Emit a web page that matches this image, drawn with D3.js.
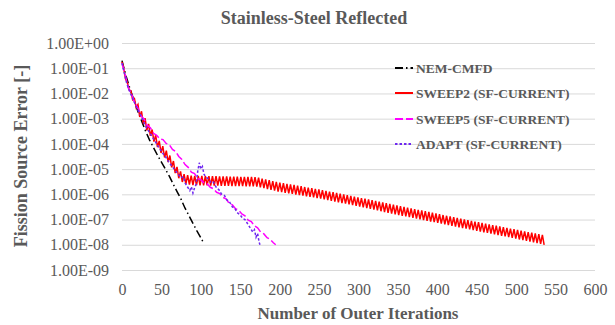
<!DOCTYPE html>
<html>
<head>
<meta charset="UTF-8">
<title>Stainless-Steel Reflected</title>
<script src="https://d3js.org/d3.v7.min.js"></script>
<style>
    body { margin: 0; background: #fff; }
    text { font-family: "Liberation Serif", "Times New Roman", serif; fill: #595959; }
    .axis .domain { display: none; }
    .axis line { stroke: #D9D9D9; }
</style>
</head>
<body>
<div id="chart"></div>
<script>
// ---- data (errors stored as log10 values) ----
var xTicks = [0, 50, 100, 150, 200, 250, 300, 350, 400, 450, 500, 550, 600];
var yTicks = [1e0, 1e-1, 1e-2, 1e-3, 1e-4, 1e-5, 1e-6, 1e-7, 1e-8, 1e-9];
var seriesNames = ["NEM-CMFD", "SWEEP2 (SF-CURRENT)", "SWEEP5 (SF-CURRENT)", "ADAPT (SF-CURRENT)"];

// NEM-CMFD
var nemIter = [0, 5, 10, 15, 20, 25, 30, 35, 40, 45, 50, 55, 60, 65, 70, 75, 80, 85, 90, 95, 100, 103];
var nemLog = [-0.70, -1.30, -1.80, -2.25, -2.70, -3.10, -3.50, -3.85, -4.15, -4.45, -4.72, -5.00,
              -5.28, -5.60, -5.90, -6.20, -6.55, -6.85, -7.15, -7.45, -7.72, -7.90];

// SWEEP2: zig-zag, one value every sweep2Step iterations
var sweep2Step = 2.25;
var sweep2Log = [
    -0.75,-1.02,-1.43,-1.56,-1.86,-1.89,-2.25,-2.20,-2.56,-2.44,
    -2.93,-2.71,-3.20,-2.98,-3.46,-3.21,-3.68,-3.43,-3.91,-3.66,
    -4.13,-3.88,-4.36,-4.09,-4.54,-4.27,-4.72,-4.46,-4.93,-4.68,
    -5.16,-4.91,-5.36,-5.09,-5.51,-5.20,-5.59,-5.24,-5.61,-5.26,
    -5.63,-5.27,-5.63,-5.27,-5.64,-5.27,-5.64,-5.28,-5.64,-5.28,
    -5.65,-5.28,-5.65,-5.28,-5.65,-5.29,-5.66,-5.29,-5.66,-5.29,
    -5.66,-5.30,-5.67,-5.30,-5.67,-5.30,-5.67,-5.31,-5.67,-5.31,
    -5.68,-5.31,-5.68,-5.31,-5.68,-5.32,-5.69,-5.34,-5.72,-5.38,
    -5.75,-5.41,-5.79,-5.44,-5.82,-5.48,-5.85,-5.51,-5.89,-5.54,
    -5.91,-5.56,-5.94,-5.59,-5.96,-5.61,-5.98,-5.63,-6.01,-5.66,
    -6.03,-5.68,-6.05,-5.71,-6.08,-5.73,-6.10,-5.75,-6.12,-5.78,
    -6.15,-5.80,-6.17,-5.83,-6.20,-5.86,-6.23,-5.89,-6.26,-5.91,
    -6.29,-5.94,-6.32,-5.97,-6.35,-6.00,-6.37,-6.03,-6.40,-6.06,
    -6.43,-6.09,-6.46,-6.12,-6.49,-6.15,-6.52,-6.17,-6.55,-6.20,
    -6.58,-6.23,-6.61,-6.26,-6.64,-6.29,-6.67,-6.32,-6.70,-6.35,
    -6.73,-6.38,-6.76,-6.41,-6.79,-6.44,-6.82,-6.47,-6.85,-6.50,
    -6.87,-6.53,-6.90,-6.56,-6.93,-6.59,-6.96,-6.62,-6.99,-6.64,
    -7.02,-6.67,-7.05,-6.70,-7.08,-6.73,-7.10,-6.76,-7.13,-6.79,
    -7.16,-6.82,-7.19,-6.85,-7.22,-6.87,-7.25,-6.90,-7.28,-6.93,
    -7.31,-6.96,-7.34,-6.99,-7.36,-7.02,-7.39,-7.05,-7.42,-7.08,
    -7.45,-7.10,-7.48,-7.13,-7.51,-7.16,-7.53,-7.19,-7.56,-7.22,
    -7.59,-7.24,-7.62,-7.27,-7.65,-7.30,-7.67,-7.33,-7.70,-7.36,
    -7.73,-7.38,-7.76,-7.41,-7.79,-7.44,-7.81,-7.47,-7.84,-7.50,
    -7.87,-7.52,-7.90,-7.55,-7.93,-7.58,-7.96,-7.61,-8.00
];

// SWEEP5
var sweep5Iter = [0, 4, 8, 12, 16, 20, 24, 28, 32, 36, 40, 44, 48, 52, 56, 60, 64, 68, 72, 76,
                  80, 84, 88, 92, 96, 100, 104, 108, 112, 116, 120, 124, 128, 132, 136, 140, 144,
                  148, 152, 156, 160, 164, 168, 172, 176, 180, 184, 188, 192, 195];
var sweep5Log = [-0.80, -1.25, -1.78, -2.02, -2.36, -2.57, -2.88, -3.02, -3.27, -3.36, -3.58, -3.66,
                 -3.80, -3.83, -3.98, -4.03, -4.22, -4.30, -4.50, -4.62, -4.82, -4.93, -5.12, -5.18,
                 -5.38, -5.42, -5.55, -5.58, -5.72, -5.78, -5.92, -5.97, -6.12, -6.18, -6.36, -6.42,
                 -6.57, -6.63, -6.78, -6.85, -7.02, -7.08, -7.25, -7.33, -7.50, -7.57, -7.72, -7.78,
                 -7.92, -8.00];

// ADAPT
var adaptIter = [0, 3, 6, 10, 15, 20, 25, 30, 35, 40, 45, 50, 55, 60, 65, 70, 75, 78, 80, 83, 86, 88,
                 90, 92, 94, 96, 98, 100, 102, 104, 106, 110, 113, 116, 120, 123, 126, 130, 133, 136,
                 140, 143, 146, 150, 153, 156, 160, 163, 166, 168, 170, 172, 174, 175];
var adaptLog = [-0.80, -1.20, -1.60, -1.95, -2.30, -2.65, -2.95, -3.30, -3.55, -3.80, -4.05, -4.30,
                -4.50, -4.75, -4.95, -5.15, -5.35, -5.30, -5.55, -5.70, -5.85, -5.70, -5.95, -5.75,
                -5.60, -5.10, -4.75, -5.00, -4.90, -5.20, -5.30, -5.40, -5.55, -5.52, -5.75, -5.82,
                -5.98, -6.05, -6.22, -6.28, -6.50, -6.55, -6.72, -6.82, -6.95, -7.00, -7.20, -7.35,
                -7.50, -7.40, -7.70, -7.55, -7.90, -8.00];

// ---- chart ----
var W = 615, H = 325;
var plot = {left: 122, right: 595, top: 43, bottom: 270};

var svg = d3.select("#chart").append("svg")
    .attr("width", W).attr("height", H);

var xScale = d3.scaleLinear().domain([0, 600]).range([plot.left, plot.right]);
var yScale = d3.scaleLog().domain([1e-9, 1]).range([plot.bottom, plot.top]);

// y axis + gridlines
svg.append("g")
    .attr("class", "axis axis-y")
    .attr("transform", "translate(" + plot.left + ",0)")
    .call(d3.axisLeft(yScale)
        .tickValues(yTicks)
        .tickSize(-(plot.right - plot.left))
        .tickPadding(13)
        .tickFormat(function(d) {
            var e = Math.round(Math.log10(d));
            return "1.00E" + (e < 0 ? "-" : "+") + d3.format("02d")(Math.abs(e));
        }))
    .selectAll("text")
    .style("font-size", "16px");

// x axis
svg.append("g")
    .attr("class", "axis axis-x")
    .attr("transform", "translate(0," + plot.bottom + ")")
    .call(d3.axisBottom(xScale).tickValues(xTicks).tickSize(0).tickPadding(14))
    .selectAll("text")
    .style("font-size", "16px");

// series
function pts(iters, logs) {
    return logs.map(function(v, i) { return [iters[i], Math.pow(10, v)]; });
}
var sweep2Iter = sweep2Log.map(function(v, i) { return i * sweep2Step; });

var series = [
    {name: seriesNames[0], data: pts(nemIter, nemLog), color: "#000000", dash: "8,3,1.5,3", w: 1.5},
    {name: seriesNames[1], data: pts(sweep2Iter, sweep2Log), color: "#FF0000", dash: null, w: 1.5},
    {name: seriesNames[2], data: pts(sweep5Iter, sweep5Log), color: "#FF00FF", dash: "8,3", w: 1.5},
    {name: seriesNames[3], data: pts(adaptIter, adaptLog), color: "#6E28F0", dash: "2.5,2", w: 1.5}
];

var line = d3.line()
    .x(function(d) { return xScale(d[0]); })
    .y(function(d) { return yScale(d[1]); });

svg.append("g").selectAll("path")
    .data(series)
    .enter()
    .append("path")
    .attr("d", function(d) { return line(d.data); })
    .attr("fill", "none")
    .attr("stroke", function(d) { return d.color; })
    .attr("stroke-width", function(d) { return d.w; })
    .attr("stroke-dasharray", function(d) { return d.dash; });

// legend
var legendY = [68, 93, 119, 144];
var legend = svg.append("g").selectAll("g")
    .data(series)
    .enter()
    .append("g")
    .attr("transform", function(d, i) { return "translate(395," + legendY[i] + ")"; });
legend.append("line")
    .attr("x1", 0).attr("x2", 18)
    .attr("stroke", function(d) { return d.color; })
    .attr("stroke-width", 2)
    .attr("stroke-dasharray", function(d) { return d.dash; });
legend.append("text")
    .attr("x", 21).attr("dy", "0.35em")
    .style("font-size", "13.5px")
    .style("font-weight", "bold")
    .text(function(d) { return d.name; });

// titles
svg.append("text")
    .attr("x", 314).attr("y", 24)
    .attr("text-anchor", "middle")
    .style("font-size", "18px").style("font-weight", "bold")
    .text("Stainless-Steel Reflected");

svg.append("text")
    .attr("x", 358).attr("y", 319)
    .attr("text-anchor", "middle")
    .style("font-size", "17px").style("font-weight", "bold")
    .text("Number of Outer Iterations");

svg.append("text")
    .attr("transform", "translate(27,156) rotate(-90)")
    .attr("text-anchor", "middle")
    .style("font-size", "18px").style("font-weight", "bold")
    .text("Fission Source Error [-]");
</script>
</body>
</html>
